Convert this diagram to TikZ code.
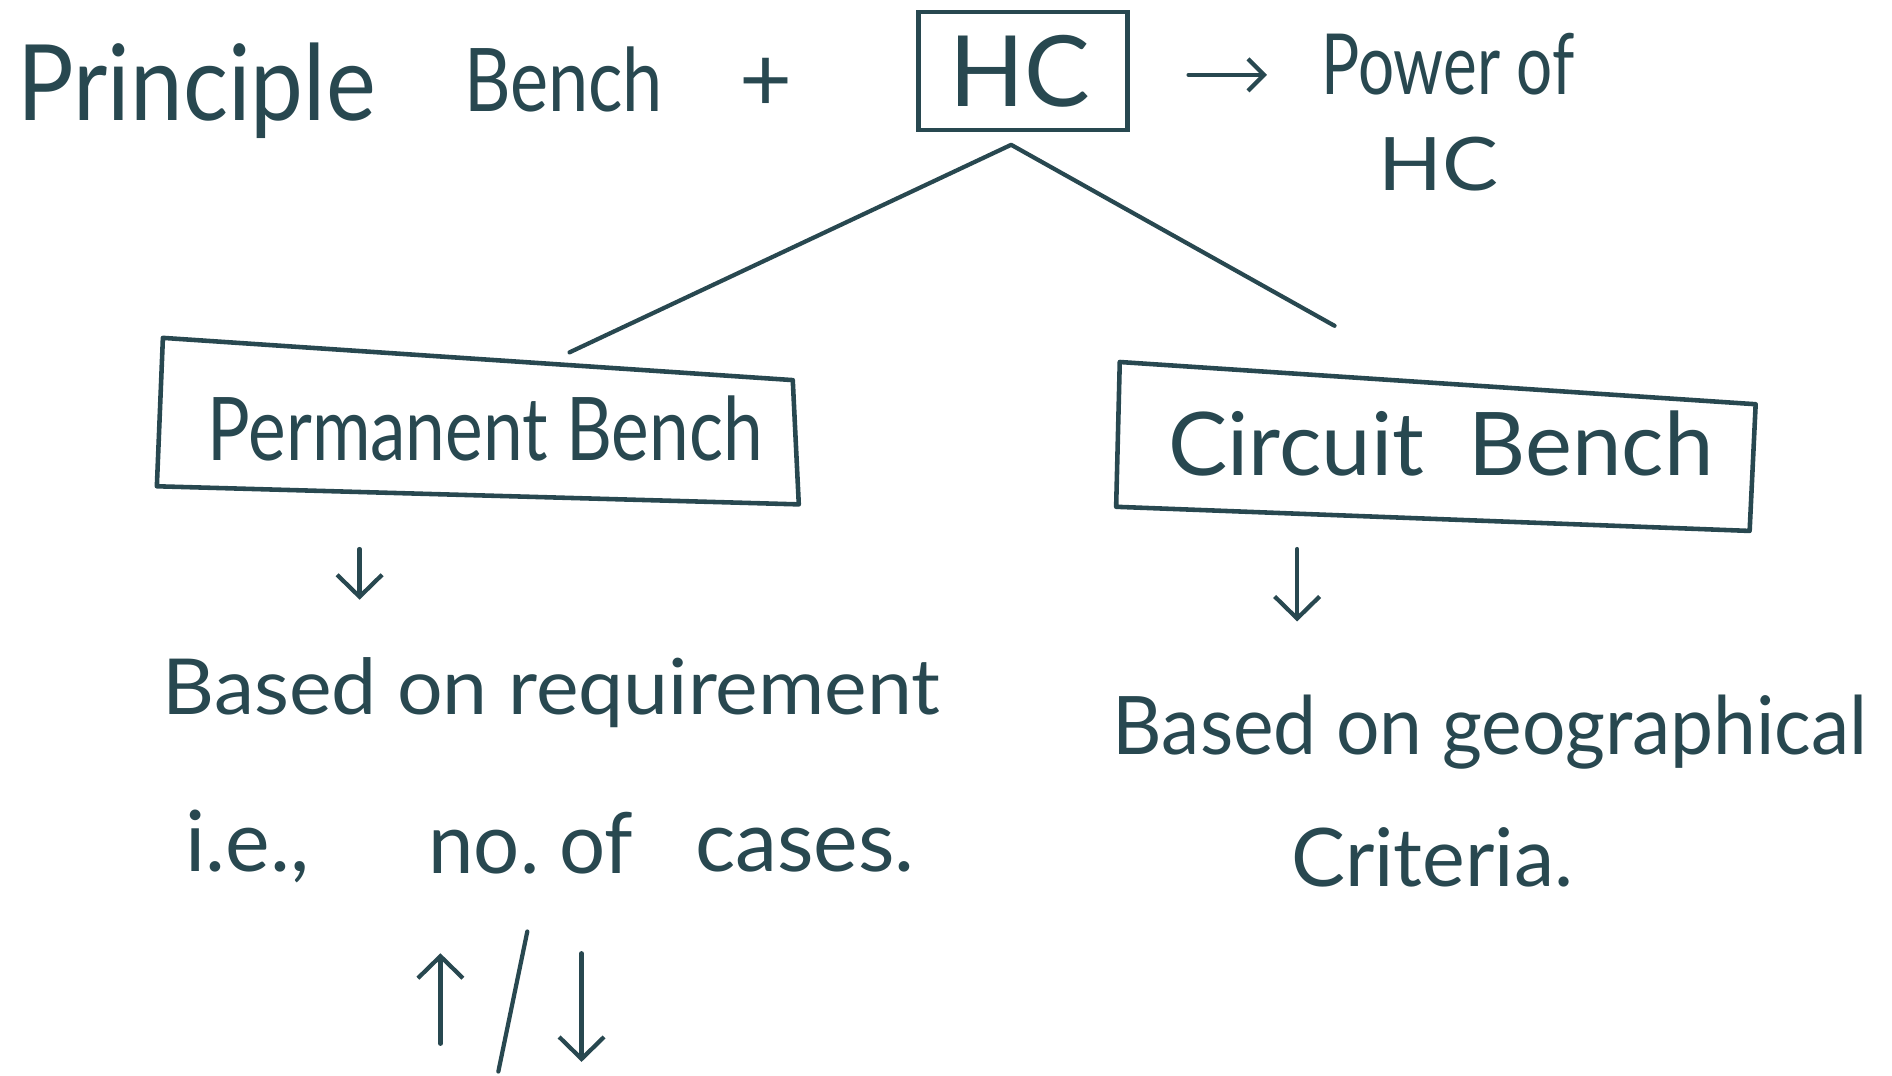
\documentclass[tikz,border=0pt]{standalone}
\usepackage{fontspec}
\setmainfont{Lato}
\usetikzlibrary{arrows.meta}
\definecolor{ink}{RGB}{40,72,80}
\newcommand\hwt[3]{\resizebox{#1}{\height}{\fontsize{#2}{#2}\selectfont #3}}
\newcommand\hwn[2]{{\fontsize{#1}{#1}\selectfont #2}}
\begin{document}
\begin{tikzpicture}[x=0.012066cm,y=-0.012066cm,
  every node/.style={text=ink, inner sep=0pt},
  inkline/.style={draw=ink, line width=1.2pt, line cap=round, line join=round},
  boxline/.style={draw=ink, line width=1.3pt, line join=round},
  boxnode/.style={draw=ink, line width=1.3pt, inner sep=0pt},
  barrow/.style={inkline, -{Straight Barb[length=2.2mm,width=4.5mm]}},
  sarrow/.style={inkline, -{Straight Barb[length=1.6mm,width=3.2mm]}},
  txt/.style={anchor=base}
]
\useasboundingbox (0,0) rectangle (1568,891);
\fill[white] (0,0) rectangle (1568,891);

% top line
\node[txt] (principle) at (163,100) {\hwt{3.58cm}{30}{Principle}};
\node[txt] (bench) at (467,92) {\hwt{1.99cm}{25}{Bench}};
\node (plus) at (635,70) {\hwn{26}{+}};
\node[boxnode, minimum width=2.09cm, minimum height=1.18cm] (hc) at (848,59) {};
\node[txt] (hctext) at (845,88) {\hwn{28}{HC}};
\node[txt] (power) at (1200,78) {\hwt{2.53cm}{24}{Power of}};
\node[txt] (hc2) at (1192,158) {\hwt{1.2cm}{21}{HC}};
\coordinate (pa) at (985,62);
\coordinate (pb) at (1050,62);
\draw[sarrow] (pa) -- (pb);

% boxes (hand-drawn, slightly skewed outlines)
\node[minimum width=6.37cm, minimum height=1.45cm] (pbench) at (396,350) {};
\draw[boxline] (135,280) -- (657,315) -- (662,418) -- (130,403) -- cycle;
\node[txt] (pbtext) at (402,382) {\hwt{5.55cm}{25}{Permanent Bench}};
\node[minimum width=6.36cm, minimum height=1.38cm] (cbench) at (1190,372) {};
\draw[boxline] (928,300) -- (1455,335) -- (1450,440) -- (925,420) -- cycle;
\node[txt] (cbtext) at (1194,394) {\hwt{5.45cm}{25}{Circuit\hspace{0.5em}Bench}};

% branches
\coordinate (apex) at (838,120);
\coordinate (lend) at (472,292);
\coordinate (rend) at (1106,270);
\draw[inkline] (lend) -- (apex) -- (rend);

% left column
\coordinate (la1) at (298,455);
\coordinate (la2) at (298,497);
\draw[barrow] (la1) -- (la2);
\node[txt] (req) at (457,592) {\hwt{7.78cm}{22}{Based on requirement}};
\node[txt] (ie) at (205,722) {\hwn{24}{i.e.,}};
\node[txt] (noof) at (440,724) {\hwt{2.05cm}{24}{no.\hspace{0.25em}of}};
\node[txt] (cases) at (667,722) {\hwn{24}{cases.}};
\coordinate (up1) at (365,865);
\coordinate (up2) at (365,790);
\draw[barrow] (up1) -- (up2);
\coordinate (sl1) at (437,772);
\coordinate (sl2) at (413,888);
\draw[inkline] (sl1) -- (sl2);
\coordinate (dn1) at (482,790);
\coordinate (dn2) at (482,880);
\draw[barrow] (dn1) -- (dn2);

% right column
\coordinate (ra1) at (1075,455);
\coordinate (ra2) at (1075,515);
\draw[barrow] (ra1) -- (ra2);
\node[txt] (geo) at (1235,625) {\hwt{7.55cm}{23}{Based on geographical}};
\node[txt] (crit) at (1187,735) {\hwn{23}{Criteria.}};
\end{tikzpicture}
\end{document}
